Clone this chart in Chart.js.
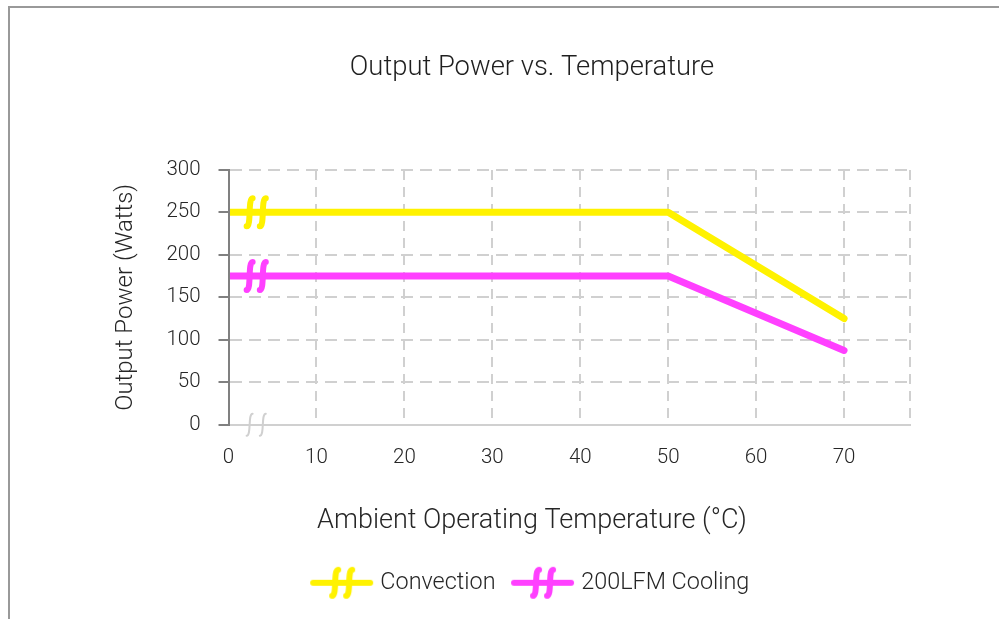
<!DOCTYPE html>
<html><head><meta charset="utf-8">
<script src="https://cdn.jsdelivr.net/npm/chart.js@4"></script>
<style>
html,body{margin:0;padding:0;background:#fff;overflow:hidden;width:999px;height:619px}
#frame{position:absolute;left:8px;top:6px;width:1200px;height:800px;border-left:2px solid #999;border-top:2px solid #999;box-sizing:border-box}
#c{position:absolute;left:0;top:0}
</style></head><body>
<div id="frame"></div>
<canvas id="c" width="1064" height="619"></canvas>
<script>
// ---- data ----
const temperatures = [0, 50, 70];
const convectionWatts = [250, 250, 125];
const cooling200Watts = [175, 175, 87.5];
const seriesNames = ['Convection', '200LFM Cooling'];
const seriesColors = ['#FFF200', '#FF40FF'];
const xTickValues = [0, 10, 20, 30, 40, 50, 60, 70];
const yTickValues = [0, 50, 100, 150, 200, 250, 300];
const xAxisMax = 77.5;
const yAxisMax = 300;

const FONT = 'Roboto';
const TEXT = '#262626';
const GRID = '#d0d0d0';

function sCurve(g, cx, cy, h) {
  g.beginPath();
  g.moveTo(cx + 3, cy - h);
  g.bezierCurveTo(cx - 2, cy - h, cx + 2, cy + h, cx - 3, cy + h);
  g.stroke();
}

function makeIcon(color) {
  const c = document.createElement('canvas');
  c.width = 65; c.height = 36;
  const g = c.getContext('2d');
  g.strokeStyle = color; g.lineWidth = 6; g.lineCap = 'round';
  g.beginPath(); g.moveTo(4, 18); g.lineTo(61, 18); g.stroke();
  sCurve(g, 26, 18, 13);
  sCurve(g, 40, 18, 13);
  return c;
}
const icons = seriesColors.map(makeIcon);

const breakMarks = {
  id: 'breakMarks',
  afterDatasetsDraw(chart) {
    const {ctx, scales: {x, y}} = chart;
    const at = [2.4, 3.9];
    ctx.save();
    ctx.lineCap = 'round';
    ctx.strokeStyle = GRID; ctx.lineWidth = 2;
    at.forEach(v => sCurve(ctx, x.getPixelForValue(v), y.getPixelForValue(0), 11));
    chart.data.datasets.forEach(ds => {
      ctx.strokeStyle = ds.borderColor; ctx.lineWidth = 6;
      at.forEach(v => sCurve(ctx, x.getPixelForValue(v), y.getPixelForValue(ds.data[0].y), 14));
    });
    ctx.restore();
  }
};

const toPoints = vals => temperatures.map((t, i) => ({x: t, y: vals[i]}));
const lineStyle = c => ({borderColor: c, backgroundColor: c, borderWidth: 7, borderCapStyle: 'round', borderJoinStyle: 'round', pointRadius: 0, fill: false, tension: 0});

new Chart(document.getElementById('c'), {
  type: 'line',
  data: {
    datasets: [
      Object.assign({label: seriesNames[0], data: toPoints(convectionWatts)}, lineStyle(seriesColors[0])),
      Object.assign({label: seriesNames[1], data: toPoints(cooling200Watts)}, lineStyle(seriesColors[1]))
    ]
  },
  options: {
    responsive: false,
    animation: false,
    devicePixelRatio: 1,
    layout: {padding: {left: 0, right: 0, top: 0, bottom: 14.5}},
    scales: {
      x: {
        type: 'linear', min: 0, max: xAxisMax,
        afterBuildTicks: s => { s.ticks = xTickValues.concat([xAxisMax]).map(v => ({value: v})); },
        ticks: {
          padding: 21, color: TEXT, font: {family: FONT, size: 20.5, weight: 300},
          maxRotation: 0, autoSkip: false,
          callback: v => xTickValues.includes(v) ? String(v) : ''
        },
        grid: {color: GRID, lineWidth: 2, drawTicks: false},
        border: {color: GRID, width: 2, dash: [10, 7]}
      },
      y: {
        min: 0, max: yAxisMax,
        afterBuildTicks: s => { s.ticks = yTickValues.map(v => ({value: v})); },
        ticks: {padding: 18, color: TEXT, font: {family: FONT, size: 20.5, weight: 300}},
        grid: {color: GRID, lineWidth: 2, drawTicks: true, tickLength: 10, tickColor: '#808080', tickWidth: 2, tickBorderDash: []},
        border: {color: '#808080', width: 2, dash: [12, 7], z: 1},
        title: {display: true, text: 'Output Power (Watts)', color: TEXT, font: {family: FONT, size: 24, weight: 300}, padding: {top: 112, bottom: 7.6}}
      },
      spacer: {
        type: 'linear', position: 'right', display: true,
        ticks: {display: false}, grid: {display: false}, border: {display: false},
        afterFit: s => { s.width = 154; }
      }
    },
    plugins: {
      title: {
        display: true, text: 'Output Power vs. Temperature', color: '#1f1f1f',
        font: {family: FONT, size: 27.4, weight: 300}, padding: {top: 52, bottom: 85}
      },
      subtitle: {
        display: true, position: 'bottom', weight: 500,
        text: 'Ambient Operating Temperature (°C)', color: TEXT,
        font: {family: FONT, size: 27, weight: 300}, padding: {top: 13.2, bottom: 14.1}
      },
      legend: {
        position: 'bottom', weight: 1000,
        labels: {
          usePointStyle: true, pointStyleWidth: 54, boxHeight: 22, padding: 20,
          color: TEXT, font: {family: FONT, size: 23.4, weight: 300},
          generateLabels: chart => Chart.defaults.plugins.legend.labels.generateLabels(chart).map((l, i) => Object.assign(l, {pointStyle: icons[i]}))
        }
      },
      tooltip: {enabled: false}
    }
  },
  plugins: [breakMarks]
});
</script>
</body></html>
